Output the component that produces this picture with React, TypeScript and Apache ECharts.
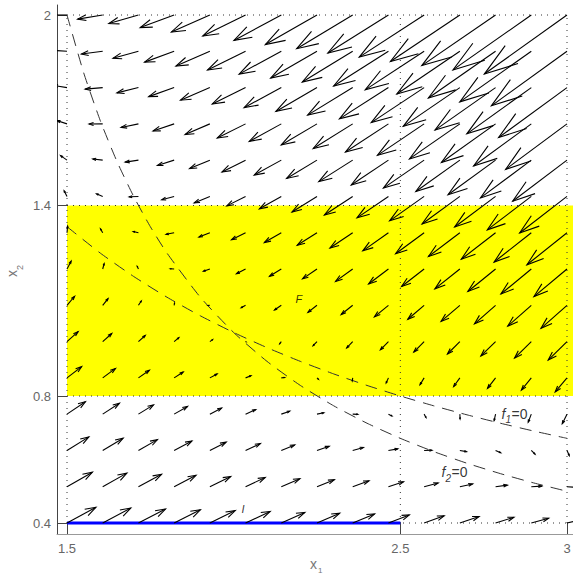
import React, { useEffect, useRef } from 'react';
import * as echarts from 'echarts';

// Grid of the vector field (x1 across, x2 up)
const X_GRID = [1.5, 1.6071, 1.7143, 1.8214, 1.9286, 2.0357, 2.1429, 2.25, 2.3571, 2.4643, 2.5714, 2.6786, 2.7857, 2.8929, 3.0];
const Y_GRID = [0.4, 0.5143, 0.6286, 0.7429, 0.8571, 0.9714, 1.0857, 1.2, 1.3143, 1.4286, 1.5429, 1.6571, 1.7714, 1.8857, 2.0];

// f1 component of each arrow, one row per Y_GRID value
const U = [
  [1.40, 1.36, 1.31, 1.27, 1.23, 1.19, 1.14, 1.10, 1.06, 1.01, 0.97, 0.93, 0.89, 0.84, 0.80],
  [1.23, 1.17, 1.12, 1.06, 1.01, 0.95, 0.90, 0.84, 0.79, 0.73, 0.68, 0.62, 0.57, 0.51, 0.46],
  [1.06, 0.99, 0.92, 0.86, 0.79, 0.72, 0.65, 0.59, 0.52, 0.45, 0.38, 0.32, 0.25, 0.18, 0.11],
  [0.89, 0.81, 0.73, 0.65, 0.57, 0.49, 0.41, 0.33, 0.25, 0.17, 0.09, 0.01, -0.07, -0.15, -0.23],
  [0.71, 0.62, 0.53, 0.44, 0.35, 0.26, 0.16, 0.07, -0.02, -0.11, -0.20, -0.30, -0.39, -0.48, -0.57],
  [0.54, 0.44, 0.33, 0.23, 0.13, 0.02, -0.08, -0.19, -0.29, -0.39, -0.50, -0.60, -0.71, -0.81, -0.91],
  [0.37, 0.26, 0.14, 0.02, -0.09, -0.21, -0.33, -0.44, -0.56, -0.68, -0.79, -0.91, -1.02, -1.14, -1.26],
  [0.20, 0.07, -0.06, -0.19, -0.31, -0.44, -0.57, -0.70, -0.83, -0.96, -1.09, -1.21, -1.34, -1.47, -1.60],
  [0.03, -0.11, -0.25, -0.39, -0.53, -0.68, -0.82, -0.96, -1.10, -1.24, -1.38, -1.52, -1.66, -1.80, -1.94],
  [-0.14, -0.30, -0.45, -0.60, -0.76, -0.91, -1.06, -1.21, -1.37, -1.52, -1.67, -1.83, -1.98, -2.13, -2.29],
  [-0.31, -0.48, -0.64, -0.81, -0.98, -1.14, -1.31, -1.47, -1.64, -1.80, -1.97, -2.13, -2.30, -2.46, -2.63],
  [-0.49, -0.66, -0.84, -1.02, -1.20, -1.37, -1.55, -1.73, -1.91, -2.08, -2.26, -2.44, -2.62, -2.79, -2.97],
  [-0.66, -0.85, -1.04, -1.23, -1.42, -1.61, -1.80, -1.99, -2.18, -2.37, -2.56, -2.74, -2.93, -3.12, -3.31],
  [-0.83, -1.03, -1.23, -1.43, -1.64, -1.84, -2.04, -2.24, -2.44, -2.65, -2.85, -3.05, -3.25, -3.46, -3.66],
  [-1.00, -1.21, -1.43, -1.64, -1.86, -2.07, -2.29, -2.50, -2.71, -2.93, -3.14, -3.36, -3.57, -3.79, -4.00],
];

// f2 component of each arrow, one row per Y_GRID value
const V = [
  [0.80, 0.76, 0.71, 0.67, 0.63, 0.59, 0.54, 0.50, 0.46, 0.41, 0.37, 0.33, 0.29, 0.24, 0.20],
  [0.74, 0.69, 0.63, 0.58, 0.52, 0.47, 0.41, 0.36, 0.30, 0.25, 0.19, 0.14, 0.08, 0.03, -0.03],
  [0.69, 0.62, 0.55, 0.48, 0.42, 0.35, 0.28, 0.21, 0.15, 0.08, 0.01, -0.06, -0.12, -0.19, -0.26],
  [0.63, 0.55, 0.47, 0.39, 0.31, 0.23, 0.15, 0.07, -0.01, -0.09, -0.17, -0.25, -0.33, -0.41, -0.49],
  [0.57, 0.48, 0.39, 0.30, 0.20, 0.11, 0.02, -0.07, -0.16, -0.26, -0.35, -0.44, -0.53, -0.62, -0.71],
  [0.51, 0.41, 0.31, 0.20, 0.10, -0.01, -0.11, -0.21, -0.32, -0.42, -0.53, -0.63, -0.73, -0.84, -0.94],
  [0.46, 0.34, 0.22, 0.11, -0.01, -0.12, -0.24, -0.36, -0.47, -0.59, -0.71, -0.82, -0.94, -1.06, -1.17],
  [0.40, 0.27, 0.14, 0.01, -0.11, -0.24, -0.37, -0.50, -0.63, -0.76, -0.89, -1.01, -1.14, -1.27, -1.40],
  [0.34, 0.20, 0.06, -0.08, -0.22, -0.36, -0.50, -0.64, -0.78, -0.92, -1.07, -1.21, -1.35, -1.49, -1.63],
  [0.29, 0.13, -0.02, -0.17, -0.33, -0.48, -0.63, -0.79, -0.94, -1.09, -1.24, -1.40, -1.55, -1.70, -1.86],
  [0.23, 0.06, -0.10, -0.27, -0.43, -0.60, -0.76, -0.93, -1.09, -1.26, -1.42, -1.59, -1.76, -1.92, -2.09],
  [0.17, -0.01, -0.18, -0.36, -0.54, -0.72, -0.89, -1.07, -1.25, -1.43, -1.60, -1.78, -1.96, -2.14, -2.31],
  [0.11, -0.08, -0.27, -0.46, -0.64, -0.83, -1.02, -1.21, -1.40, -1.59, -1.78, -1.97, -2.16, -2.35, -2.54],
  [0.06, -0.14, -0.35, -0.55, -0.75, -0.95, -1.16, -1.36, -1.56, -1.76, -1.96, -2.17, -2.37, -2.57, -2.77],
  [0.00, -0.21, -0.43, -0.64, -0.86, -1.07, -1.29, -1.50, -1.71, -1.93, -2.14, -2.36, -2.57, -2.79, -3.00],
];

// Nullclines
const F1_ZERO = [
  [1.5, 1.3333], [1.6, 1.25], [1.7, 1.1765], [1.8, 1.1111], [1.9, 1.0526], [2.0, 1.0],
  [2.1, 0.9524], [2.2, 0.9091], [2.3, 0.8696], [2.4, 0.8333], [2.5, 0.8], [2.6, 0.7692],
  [2.7, 0.7407], [2.8, 0.7143], [2.9, 0.6897], [3.0, 0.6667],
];
const F2_ZERO = [
  [1.5, 2.0], [1.55, 1.8182], [1.6, 1.6667], [1.65, 1.5385], [1.7, 1.4286], [1.75, 1.3333],
  [1.8, 1.25], [1.9, 1.1111], [2.0, 1.0], [2.1, 0.9091], [2.2, 0.8333], [2.3, 0.7692],
  [2.4, 0.7143], [2.5, 0.6667], [2.6, 0.625], [2.7, 0.5882], [2.8, 0.5556], [2.9, 0.5263], [3.0, 0.5],
];

// Box F (yellow) and interval I (blue)
const BOX_F_X = [1.5, 3.02];
const BOX_F_Y = [0.8, 1.4];
const INTERVAL_I = [[1.5, 0.4], [2.5, 0.4]];

// Ticks
const X_TICKS = [1.5, 2.5, 3];
const Y_TICKS = [0.4, 0.8, 1.4, 2];

// Annotations: [main letter, subscript, rest]
const LABEL_TEXT = [['F', '', ''], ['I', '', ''], ['f', '1', '=0'], ['f', '2', '=0']];
const LABEL_POS = [[2.187, 1.12], [2.025, 0.461], [2.805, 0.765], [2.625, 0.58]];

const X_MIN = 1.47;
const X_MAX = 3.018;
const Y_MIN = 0.3654;
const Y_MAX = 2.0315;
const ARROW_SCALE = 0.062;

const FONT = '"Liberation Sans", Arial, Helvetica, sans-serif';

export default function App() {
  const ref = useRef<HTMLDivElement>(null);

  useEffect(() => {
    const chart = echarts.init(ref.current!, null, { renderer: 'svg' });

    const arrowData: number[][] = [];
    Y_GRID.forEach((y, j) => {
      X_GRID.forEach((x, i) => {
        arrowData.push([x, y, U[j][i], V[j][i]]);
      });
    });

    const gridLines: number[][] = [];
    X_TICKS.forEach((t) => gridLines.push([t, Y_TICKS[0], t, Y_TICKS[Y_TICKS.length - 1]]));
    Y_TICKS.forEach((t) => gridLines.push([X_TICKS[0], t, X_TICKS[X_TICKS.length - 1], t]));

    const labelItems: any[] = [];
    LABEL_TEXT.forEach((parts, k) => {
      const pos = LABEL_POS[k];
      const isEq = parts[1] !== '';
      labelItems.push({
        value: pos,
        label: {
          formatter: parts[0],
          fontSize: isEq ? 14 : 11,
          fontStyle: 'italic',
          offset: [0, 0],
        },
      });
      if (isEq) {
        labelItems.push({
          value: pos,
          label: { formatter: parts[1], fontSize: 10, fontStyle: 'italic', offset: [4, 8] },
        });
        labelItems.push({
          value: pos,
          label: { formatter: parts[2], fontSize: 14, fontStyle: 'normal', offset: [10, 0] },
        });
      }
    });

    const option: any = {
      animation: false,
      grid: { left: 57, right: 0, top: 5, bottom: 41, containLabel: false, outerBoundsMode: 'none' },
      xAxis: {
        type: 'value',
        min: X_MIN,
        max: X_MAX,
        axisLine: { show: true, onZero: false, lineStyle: { color: '#999', width: 1 } },
        axisTick: { show: true, inside: true, length: 11, customValues: X_TICKS, lineStyle: { color: '#444' } },
        axisLabel: {
          show: true,
          customValues: X_TICKS,
          formatter: (v: number) => String(v),
          color: '#666',
          fontSize: 13,
          fontFamily: FONT,
          margin: 8,
        },
        splitLine: { show: false },
      },
      yAxis: {
        type: 'value',
        min: Y_MIN,
        max: Y_MAX,
        axisLine: { show: true, onZero: false, lineStyle: { color: '#444', width: 1 } },
        axisTick: { show: true, inside: true, length: 10, customValues: Y_TICKS, lineStyle: { color: '#444' } },
        axisLabel: {
          show: true,
          customValues: Y_TICKS,
          formatter: (v: number) => String(v),
          color: '#666',
          fontSize: 13,
          fontFamily: FONT,
          margin: 6,
        },
        splitLine: { show: false },
      },
      graphic: [
        {
          type: 'group',
          x: 310,
          y: 564,
          silent: true,
          children: [
            { type: 'text', x: 0, y: 0, style: { text: 'x', fontSize: 14, fontFamily: FONT, fill: '#777', align: 'left', verticalAlign: 'middle' } },
            { type: 'text', x: 8, y: 6, style: { text: '1', fontSize: 8, fontFamily: FONT, fill: '#777', align: 'left', verticalAlign: 'middle' } },
          ],
        },
        {
          type: 'group',
          x: 1,
          y: 277,
          rotation: Math.PI / 2,
          silent: true,
          children: [
            { type: 'text', x: 0, y: 11, style: { text: 'x', fontSize: 14, fontFamily: FONT, fill: '#777', align: 'left', verticalAlign: 'middle' } },
            { type: 'text', x: 7, y: 19, style: { text: '2', fontSize: 9, fontFamily: FONT, fill: '#777', align: 'left', verticalAlign: 'middle' } },
          ],
        },
      ],
      series: [
        {
          type: 'custom',
          name: 'F',
          z: 1,
          silent: true,
          coordinateSystem: 'cartesian2d',
          encode: { x: [0, 2], y: [1, 3] },
          data: [[BOX_F_X[0], BOX_F_Y[0], BOX_F_X[1], BOX_F_Y[1]]],
          renderItem: (params: any, api: any) => {
            const p0 = api.coord([api.value(0), api.value(3)]);
            const p1 = api.coord([api.value(2), api.value(1)]);
            return {
              type: 'rect',
              shape: { x: p0[0], y: p0[1], width: p1[0] - p0[0], height: p1[1] - p0[1] },
              style: { fill: '#ffff00' },
            };
          },
        },
        {
          type: 'custom',
          name: 'grid',
          z: 2,
          silent: true,
          coordinateSystem: 'cartesian2d',
          encode: { x: [0, 2], y: [1, 3] },
          data: gridLines,
          renderItem: (params: any, api: any) => {
            const p0 = api.coord([api.value(0), api.value(1)]);
            const p1 = api.coord([api.value(2), api.value(3)]);
            return {
              type: 'line',
              shape: { x1: p0[0], y1: p0[1], x2: p1[0], y2: p1[1] },
              style: { stroke: '#333', lineWidth: 1, lineDash: [1, 5] },
            };
          },
        },
        {
          type: 'line',
          name: 'f1=0',
          z: 3,
          silent: true,
          data: F1_ZERO,
          showSymbol: false,
          symbol: 'none',
          smooth: 0.2,
          lineStyle: { color: '#333', width: 1, type: [12, 8] },
        },
        {
          type: 'line',
          name: 'f2=0',
          z: 3,
          silent: true,
          data: F2_ZERO,
          showSymbol: false,
          symbol: 'none',
          smooth: 0.2,
          lineStyle: { color: '#333', width: 1, type: [12, 8] },
        },
        {
          type: 'line',
          name: 'I',
          z: 4,
          silent: true,
          data: INTERVAL_I,
          showSymbol: false,
          symbol: 'none',
          lineStyle: { color: '#0000ff', width: 3 },
        },
        {
          type: 'custom',
          name: 'field',
          z: 5,
          silent: true,
          clip: true,
          coordinateSystem: 'cartesian2d',
          encode: { x: 0, y: 1 },
          data: arrowData,
          renderItem: (params: any, api: any) => {
            const x = api.value(0);
            const y = api.value(1);
            const u = api.value(2);
            const v = api.value(3);
            const p0 = api.coord([x, y]);
            const p1 = api.coord([x + ARROW_SCALE * u, y + ARROW_SCALE * v]);
            const dx = p1[0] - p0[0];
            const dy = p1[1] - p0[1];
            const a = 0.33;
            const b = 0.33;
            const h1 = [p1[0] - a * (dx + b * dy), p1[1] - a * (dy - b * dx)];
            const h2 = [p1[0] - a * (dx - b * dy), p1[1] - a * (dy + b * dx)];
            return {
              type: 'group',
              children: [
                {
                  type: 'line',
                  shape: { x1: p0[0], y1: p0[1], x2: p1[0], y2: p1[1] },
                  style: { stroke: '#000', lineWidth: 1.1 },
                },
                {
                  type: 'polyline',
                  shape: { points: [h1, p1, h2] },
                  style: { stroke: '#000', fill: null, lineWidth: 1.1 },
                },
              ],
            };
          },
        },
        {
          type: 'scatter',
          name: 'labels',
          z: 6,
          silent: true,
          symbolSize: 1,
          itemStyle: { color: 'transparent' },
          data: labelItems,
          label: {
            show: true,
            position: [0, 0],
            align: 'left',
            verticalAlign: 'top',
            color: '#000',
            fontFamily: FONT,
          },
        },
      ],
    };

    chart.setOption(option);
    return () => chart.dispose();
  }, []);

  return (
    <div
      ref={ref}
      style={{ position: 'fixed', left: 0, top: 0, width: 573, height: 575, background: '#fff' }}
    />
  );
}
